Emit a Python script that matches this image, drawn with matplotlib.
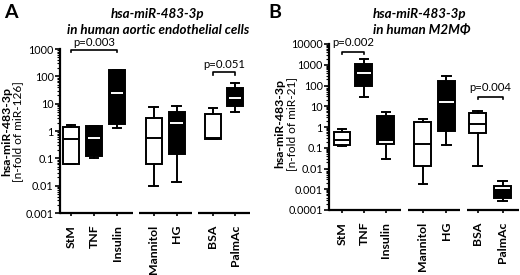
import matplotlib
matplotlib.use("Agg")
import matplotlib.pyplot as plt

plt.rcParams['font.family'] = ['Lato', 'DejaVu Sans']

categories = ["StM", "TNF", "Insulin", "Mannitol", "HG", "BSA", "PalmAc"]
filled = [False, True, True, False, True, False, True]

# Panel A: (whislo, q1, median, q3, whishi)
a_lo  = [0.06, 0.10, 1.3, 0.010, 0.014, 0.50, 5.1]
a_q1  = [0.064, 0.12, 1.85, 0.060, 0.14, 0.52, 8.0]
a_med = [0.52, 0.57, 25, 0.57, 1.96, 0.56, 16]
a_q3  = [1.35, 1.50, 165, 3.0, 5.0, 4.3, 39]
a_hi  = [1.6, 1.55, 165, 7.5, 8.5, 7.0, 56]

# Panel B
b_lo  = [0.116, 27, 0.029, 0.0017, 0.13, 0.0125, 0.00028]
b_q1  = [0.13, 100, 0.145, 0.0125, 0.64, 0.51, 0.00039]
b_med = [0.24, 395, 0.19, 0.156, 15.6, 1.35, 0.0011]
b_q3  = [0.55, 1080, 3.4, 1.75, 162, 4.8, 0.00137]
b_hi  = [0.77, 1880, 5.3, 2.5, 283, 6.0, 0.0025]

a_ticks = [0.001, 0.01, 0.1, 1, 10, 100, 1000]
a_ticklabels = ["0.001", "0.01", "0.1", "1", "10", "100", "1000"]
b_ticks = [0.0001, 0.001, 0.01, 0.1, 1, 10, 100, 1000, 10000]
b_ticklabels = ["0.0001", "0.001", "0.01", "0.1", "1", "10", "100", "1000", "10000"]

a_pvals = ["p=0.003", "p=0.051"]
a_pairs = [(0, 2), (5, 6)]
a_pheights = [950, 140]
b_pvals = ["p=0.002", "p=0.004"]
b_pairs = [(0, 1), (5, 6)]
b_pheights = [4200, 28]

W, H = 520, 275
fig = plt.figure(figsize=(W / 100, H / 100), dpi=100)


def make_panel(rect, pos, lo, q1, med, q3, hi, ticks, ticklabels, xlim,
               segs, bw, cw, pvals, pairs, pheights, ptxt_off):
    ax = fig.add_axes(rect)
    stats = []
    for i in range(len(categories)):
        stats.append(dict(whislo=lo[i], q1=q1[i], med=med[i], q3=q3[i],
                          whishi=hi[i], label=categories[i]))
    res = ax.bxp(stats, positions=pos, widths=bw, capwidths=cw,
                 showfliers=False, patch_artist=True,
                 boxprops=dict(linewidth=1.4, edgecolor='black'),
                 whiskerprops=dict(linewidth=1.4, color='black'),
                 capprops=dict(linewidth=1.4, color='black'),
                 medianprops=dict(linewidth=1.4))
    for i, f in enumerate(filled):
        res['boxes'][i].set_facecolor('black' if f else 'white')
        res['medians'][i].set_color('white' if f else 'black')
        if f:
            res['medians'][i].set_xdata([pos[i] - bw / 2 + 0.06, pos[i] + bw / 2 - 0.06])
    ax.set_yscale('log')
    ax.set_ylim(ticks[0], ticks[-1])
    ax.set_xlim(*xlim)
    ax.set_yticks(ticks, ticklabels)
    ax.yaxis.set_minor_locator(matplotlib.ticker.LogLocator(base=10, subs=range(2, 10), numticks=50))
    ax.yaxis.set_minor_formatter(matplotlib.ticker.NullFormatter())
    ax.tick_params(axis='y', which='major', length=3.5, width=1.2, labelsize=7.8, pad=1)
    ax.tick_params(axis='y', which='minor', length=2, width=0.8)
    ax.set_xticks(pos, categories, rotation=90, fontweight='bold', fontsize=8.8)
    ax.tick_params(axis='x', length=2.5, width=1.2, pad=6)
    for s in ['top', 'right', 'bottom']:
        ax.spines[s].set_visible(False)
    ax.spines['left'].set_linewidth(1.6)
    trans = ax.get_xaxis_transform()
    for x0, x1 in segs:
        ax.plot([x0, x1], [0, 0], color='black', lw=1.6, transform=trans,
                clip_on=False, solid_capstyle='butt')
    ax.patch.set_alpha(0)
    # p-value brackets
    for txt, (i, j), h in zip(pvals, pairs, pheights):
        ax.plot([pos[i], pos[i], pos[j], pos[j]], [h * 0.82, h, h, h * 0.82],
                color='black', lw=1.2, clip_on=False)
        ax.annotate(txt, ((pos[i] + pos[j]) / 2, h), xytext=(0, ptxt_off),
                    textcoords='offset points', ha='center', va='center',
                    fontsize=8.2)
    return ax


axA = make_panel([60 / W, 1 - 213 / H, 190 / W, 164 / H],
                 [0, 1, 2, 3.6, 4.6, 6.17, 7.13],
                 a_lo, a_q1, a_med, a_q3, a_hi, a_ticks, a_ticklabels,
                 (-0.478, 7.78), [(-0.478, 2.7), (2.96, 5.26), (5.52, 7.78)],
                 0.68, 0.38, a_pvals, a_pairs, a_pheights, 5.4)
axB = make_panel([329 / W, 1 - 210 / H, 190 / W, 166 / H],
                 [0, 1, 2, 3.68, 4.75, 6.18, 7.3],
                 b_lo, b_q1, b_med, b_q3, b_hi, b_ticks, b_ticklabels,
                 (-0.59, 8.05), [(-0.59, 2.7), (3.0, 5.36), (5.68, 8.05)],
                 0.77, 0.4, b_pvals, b_pairs, b_pheights, 6.6)

# y labels
fig.text(7 / W, 1 - 132 / H, "hsa-miR-483-3p", rotation=90, ha='center', va='center',
         fontsize=8.8, fontweight='bold')
fig.text(17.5 / W, 1 - 132 / H, "[n-fold of miR-126]", rotation=90, ha='center', va='center',
         fontsize=8.6)
fig.text(280 / W, 1 - 124 / H, "hsa-miR-483-3p", rotation=90, ha='center', va='center',
         fontsize=8.8, fontweight='bold')
fig.text(291.5 / W, 1 - 124 / H, "[n-fold of miR-21]", rotation=90, ha='center', va='center',
         fontsize=8.6)

# panel letters
fig.text(4 / W, 1 - 4 / H, "A", fontsize=14, fontweight='bold', ha='left', va='top')
fig.text(268 / W, 1 - 4 / H, "B", fontsize=14, fontweight='bold', ha='left', va='top')

# titles
fig.text(158 / W, 1 - 14 / H, "hsa-miR-483-3p", fontsize=9.6, fontweight='bold',
         style='italic', ha='center', va='center')
fig.text(158 / W, 1 - 30 / H, "in human aortic endothelial cells", fontsize=9.6,
         fontweight='bold', style='italic', ha='center', va='center')
fig.text(373 / W, 1 - 14 / H, "hsa-miR-483-3p", fontsize=9.6, fontweight='bold',
         style='italic', ha='left', va='center')
fig.text(373 / W, 1 - 30 / H, "in human M2M\u03A6", fontsize=9.6, fontweight='bold',
         style='italic', ha='left', va='center')

fig.savefig("out.png", dpi=100, facecolor='white')
